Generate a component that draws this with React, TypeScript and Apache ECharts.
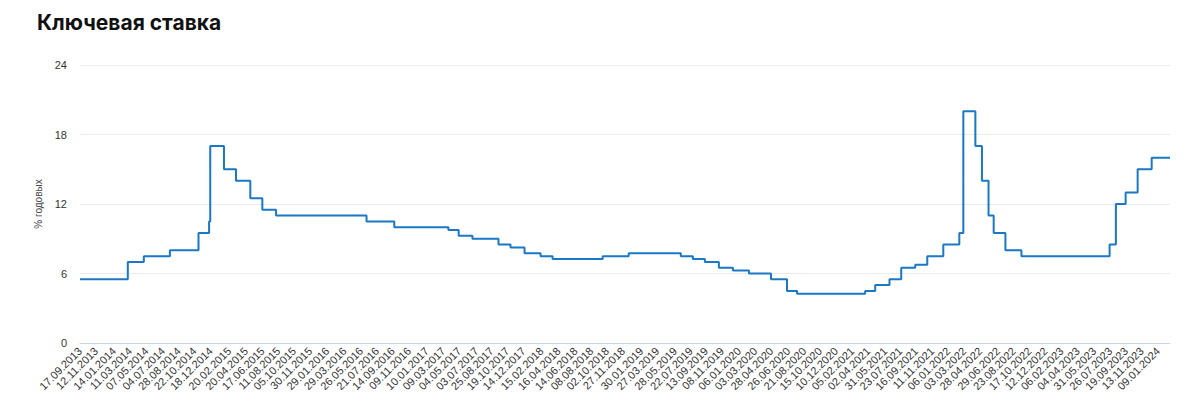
import React, { useEffect, useRef } from "react";
import * as echarts from "echarts";

// Key rate change dates (dd.mm.yyyy) and the rate effective from each date, % per year
const changeDates: string[] = [
  "17.09.2013", "03.03.2014", "28.04.2014", "28.07.2014", "05.11.2014", "12.12.2014",
  "16.12.2014", "02.02.2015", "16.03.2015", "05.05.2015", "16.06.2015", "03.08.2015",
  "14.06.2016", "19.09.2016", "27.03.2017", "02.05.2017", "19.06.2017", "18.09.2017",
  "30.10.2017", "18.12.2017", "12.02.2018", "26.03.2018", "17.09.2018", "17.12.2018",
  "17.06.2019", "29.07.2019", "09.09.2019", "28.10.2019", "16.12.2019", "10.02.2020",
  "27.04.2020", "22.06.2020", "27.07.2020", "22.03.2021", "26.04.2021", "15.06.2021",
  "26.07.2021", "13.09.2021", "25.10.2021", "20.12.2021", "14.02.2022", "28.02.2022",
  "11.04.2022", "04.05.2022", "27.05.2022", "14.06.2022", "25.07.2022", "19.09.2022",
  "24.07.2023", "15.08.2023", "18.09.2023", "30.10.2023", "18.12.2023", "20.02.2024",
];
const rates: number[] = [
  5.5, 7.0, 7.5, 8.0, 9.5, 10.5,
  17.0, 15.0, 14.0, 12.5, 11.5, 11.0,
  10.5, 10.0, 9.75, 9.25, 9.0, 8.5,
  8.25, 7.75, 7.5, 7.25, 7.5, 7.75,
  7.5, 7.25, 7.0, 6.5, 6.25, 6.0,
  5.5, 4.5, 4.25, 4.5, 5.0, 5.5,
  6.5, 6.75, 7.5, 8.5, 9.5, 20.0,
  17.0, 14.0, 11.0, 9.5, 8.0, 7.5,
  8.5, 12.0, 13.0, 15.0, 16.0, 16.0,
];

const tickLabels: string[] = [
  "17.09.2013", "12.11.2013", "14.01.2014", "11.03.2014", "07.05.2014", "04.07.2014",
  "28.08.2014", "22.10.2014", "18.12.2014", "20.02.2015", "20.04.2015", "17.06.2015",
  "11.08.2015", "05.10.2015", "30.11.2015", "29.01.2016", "29.03.2016", "26.05.2016",
  "21.07.2016", "14.09.2016", "09.11.2016", "10.01.2017", "09.03.2017", "04.05.2017",
  "03.07.2017", "25.08.2017", "19.10.2017", "14.12.2017", "15.02.2018", "16.04.2018",
  "14.06.2018", "08.08.2018", "02.10.2018", "27.11.2018", "30.01.2019", "27.03.2019",
  "28.05.2019", "22.07.2019", "13.09.2019", "08.11.2019", "06.01.2020", "03.03.2020",
  "28.04.2020", "26.06.2020", "21.08.2020", "15.10.2020", "10.12.2020", "05.02.2021",
  "02.04.2021", "31.05.2021", "23.07.2021", "16.09.2021", "11.11.2021", "06.01.2022",
  "03.03.2022", "28.04.2022", "29.06.2022", "23.08.2022", "17.10.2022", "12.12.2022",
  "06.02.2023", "04.04.2023", "31.05.2023", "26.07.2023", "19.09.2023", "13.11.2023",
  "09.01.2024",
];

const yTicks: number[] = [0, 6, 12, 18, 24];

function toTs(s: string): number {
  const [d, m, y] = s.split(".").map(Number);
  return Date.UTC(y, m - 1, d);
}
function fmt(ts: number): string {
  const dt = new Date(ts);
  const dd = String(dt.getUTCDate()).padStart(2, "0");
  const mm = String(dt.getUTCMonth() + 1).padStart(2, "0");
  return `${dd}.${mm}.${dt.getUTCFullYear()}`;
}

export default function App() {
  const ref = useRef<HTMLDivElement>(null);
  useEffect(() => {
    if (!ref.current) return;
    const chart = echarts.init(ref.current, null, { renderer: "svg" });
    const data = changeDates.map((d, i) => [toTs(d), rates[i]]);
    const tickTs = tickLabels.map(toTs);
    chart.setOption({
      animation: false,
      backgroundColor: "#ffffff",
      title: {
        text: "Ключевая ставка",
        left: 32,
        top: 7,
        textStyle: {
          fontFamily: "Inter, 'Noto Sans', sans-serif",
          fontSize: 21,
          fontWeight: 700,
          color: "#111111",
        },
      },
      grid: { left: 80, right: 30, top: 65, bottom: 62, containLabel: false },
      xAxis: {
        type: "value",
        min: toTs(changeDates[0]),
        max: toTs(changeDates[changeDates.length - 1]),
        axisLine: { show: true, lineStyle: { color: "#ccd6eb", width: 1 } },
        axisTick: { show: false },
        splitLine: { show: false },
        axisLabel: {
          customValues: tickTs,
          rotate: 45,
          fontSize: 11,
          color: "#333333",
          fontFamily: "'Liberation Sans', Arial, sans-serif",
          margin: 6,
          hideOverlap: false,
          showMinLabel: true,
          showMaxLabel: true,
          formatter: (v: number) => fmt(v),
        },
      },
      yAxis: {
        type: "value",
        min: yTicks[0],
        max: yTicks[yTicks.length - 1],
        interval: 6,
        name: "% годовых",
        nameLocation: "middle",
        nameGap: 37,
        nameTextStyle: {
          fontSize: 10,
          color: "#444444",
          fontFamily: "'Liberation Sans', Arial, sans-serif",
        },
        axisLine: { show: false },
        axisTick: { show: false },
        splitLine: { lineStyle: { color: "#ebebeb", width: 1 } },
        axisLabel: {
          fontSize: 11,
          color: "#333333",
          margin: 13,
          fontFamily: "'Liberation Sans', Arial, sans-serif",
        },
      },
      series: [
        {
          type: "line",
          step: "end",
          data,
          showSymbol: false,
          lineStyle: { color: "#1a78c6", width: 2 },
          itemStyle: { color: "#1a78c6" },
        },
      ],
    });
    return () => chart.dispose();
  }, []);
  return (
    <div
      ref={ref}
      style={{ position: "absolute", left: 0, top: 0, width: 1200, height: 405 }}
    />
  );
}
